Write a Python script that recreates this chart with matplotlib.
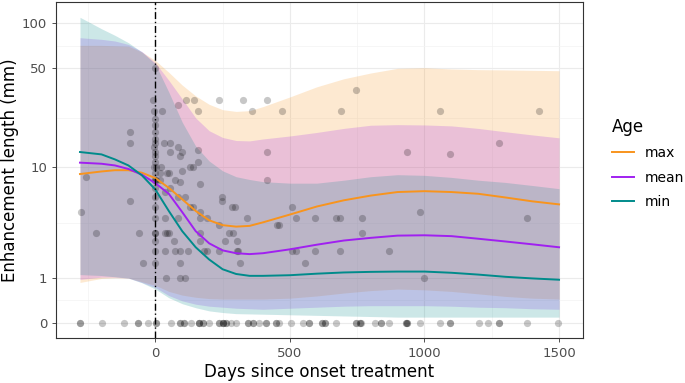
import numpy as np
import matplotlib
matplotlib.use("Agg")
import matplotlib.pyplot as plt
from matplotlib.lines import Line2D

# fitted curves + ribbons (mm, days)
days = [-280, -200, -150, -100, -50, 0, 50, 100, 150, 200, 250, 300, 350, 400,
        500, 600, 700, 800, 900, 1000, 1100, 1200, 1300, 1400, 1500]

max_fit = [8.9, 9.3, 9.5, 9.5, 9.1, 8.3, 7.0, 5.7, 4.6, 3.85, 3.5, 3.4, 3.45, 3.7,
           4.3, 5.0, 5.6, 6.1, 6.5, 6.6, 6.5, 6.3, 5.9, 5.5, 5.2]
mean_fit = [10.8, 10.6, 10.3, 9.7, 8.8, 7.6, 6.3, 4.5, 3.1, 2.4, 2.05, 1.92, 1.88, 1.92,
            2.1, 2.33, 2.55, 2.7, 2.83, 2.85, 2.8, 2.65, 2.5, 2.35, 2.2]
min_fit = [12.9, 12.4, 11.4, 10.3, 8.7, 6.8, 4.6, 3.1, 2.2, 1.65, 1.28, 1.12, 1.06, 1.06,
           1.08, 1.13, 1.17, 1.19, 1.2, 1.2, 1.16, 1.1, 1.03, 0.98, 0.94]

max_hi = [71, 71, 70.5, 70, 64, 56, 46.5, 38, 32, 28, 25.7, 25, 25.3, 27,
          31.5, 37, 42, 46, 49.5, 50, 49, 48.5, 48.3, 48, 47.7]
mean_hi = [80, 78, 76, 72, 64.5, 54, 41, 30.5, 22.5, 18.3, 16.4, 15.6, 15.5, 16,
           16.8, 17.8, 19, 20, 20.2, 20.1, 19.8, 19, 18, 17.1, 16.3]
min_hi = [110, 92, 83, 74, 64, 53, 34, 21, 14.2, 11.1, 9.4, 8.5, 8.1, 7.8,
          7.6, 7.6, 8.0, 8.5, 8.8, 8.7, 8.4, 8.0, 7.7, 7.3, 6.9]

max_lo = [0.86, 0.98, 1.0, 0.99, 0.88, 0.78, 0.62, 0.53, 0.48, 0.45, 0.44, 0.44, 0.44, 0.44,
          0.46, 0.51, 0.58, 0.64, 0.68, 0.66, 0.62, 0.56, 0.5, 0.46, 0.44]
mean_lo = [0.95, 1.02, 1.02, 0.99, 0.86, 0.72, 0.52, 0.4, 0.33, 0.29, 0.27, 0.25, 0.24, 0.23,
           0.25, 0.27, 0.29, 0.3, 0.3, 0.3, 0.29, 0.27, 0.26, 0.24, 0.23]
min_lo = [1.1, 1.07, 1.03, 0.99, 0.85, 0.68, 0.47, 0.34, 0.26, 0.2, 0.17, 0.15, 0.145, 0.14,
          0.13, 0.12, 0.11, 0.1, 0.09, 0.09, 0.09, 0.09, 0.09, 0.09, 0.09]

# observations (days, length in mm)
obs_days = [-256, -278, -222, -93, -93, -93, -62, -46,
            0, -10, -4, 0, -3, 0, -2, 0, -5, 0, -3, 0, -6, 2, 0, 0, -2, 2, 0, 0, 0, 0, 0, -2, 0, 0, 0,
            25, 22, 49, 18, 18, 43, 33, 56, 83, 53, 37, 56, 37, 37, 43, 49, 68, 37, 74, 40,
            86, 115, 142, 99, 93, 99, 74, 93, 86, 111, 130, 140, 86, 93, 123, 93, 93, 111, 127, 140,
            160, 160, 160, 167, 165, 165, 165, 165, 191, 179, 191,
            235, 247, 247, 284, 296, 235, 272, 290, 260, 302, 235, 302, 308, 315, 340,
            327, 360, 414, 416, 416, 469, 453, 459, 506, 521, 506, 521, 593, 673, 685, 593, 685, 556, 691,
            747, 1056, 1426, 934, 1096, 1278, 769, 769, 984, 1380, 867, 1000]
obs_len = [8.5, 4.5, 3, 18, 15, 5.5, 3, 1.5,
           50, 30, 25, 22, 20, 18, 16, 15, 14, 13, 12, 11, 10, 10, 9, 8, 8, 8, 7, 6, 5, 4, 3, 3, 2.5, 2, 1.5,
           25, 10, 9, 8, 9, 9, 15, 15, 14, 13, 6.5, 7, 4, 3, 3, 3, 2.5, 2, 2, 1,
           27.5, 30, 30, 13, 12, 9.4, 8, 7.8, 6, 6, 5, 5, 4, 2, 2, 1.5, 1, 1, 10, 10,
           25, 13.4, 11, 7.5, 4.5, 4, 3, 2.5, 4, 2, 2,
           30, 6, 5.5, 5, 5, 3.5, 3, 3, 2.5, 2.5, 2, 2, 2, 1.5, 4,
           30, 25, 30, 13, 8, 25, 3.5, 3.5, 5, 4, 2, 2, 4, 4, 4, 2, 2, 1.5, 25,
           35, 25, 25, 13, 12.5, 15, 4, 3, 4.5, 4, 2, 1]

zero_days = [-280, -280, -197, -116, -64, -64, -27, 4, 4, 59, 90, 90, 108, 108, 133,
             164, 164, 164, 177, 177, 201, 238, 238, 251, 251, 251, 263, 263, 281, 300,
             343, 343, 362, 362, 386, 411, 411, 448, 448, 460, 504, 547, 572, 572, 621, 621,
             630, 630, 673, 747, 747, 759, 759, 765, 815, 837, 837, 868, 930, 930, 934, 934,
             984, 1058, 1096, 1096, 1204, 1235, 1278, 1278, 1380, 1497]

groups = ["max", "mean", "min"]
colors = {"max": "#F8941D", "mean": "#A020F0", "min": "#008B8B"}

fig = plt.figure(figsize=(6.85, 3.83), dpi=100)
ax = fig.add_axes([0.0818, 0.1175, 0.7693, 0.8773])

ax.set_yscale("function", functions=(lambda v: np.log10(v + 1), lambda t: 10 ** t - 1))

fits = {"max": max_fit, "mean": mean_fit, "min": min_fit}
his = {"max": max_hi, "mean": mean_hi, "min": min_hi}
los = {"max": max_lo, "mean": mean_lo, "min": min_lo}

for g in groups:
    ax.fill_between(days, los[g], his[g], color=colors[g], alpha=0.2, lw=0, zorder=2)

ax.scatter(obs_days, obs_len, s=27, color="black", alpha=0.22, lw=0, zorder=3)
ax.scatter(zero_days, np.zeros(len(zero_days)), s=27, color="black", alpha=0.22, lw=0, zorder=3)

for g in groups:
    ax.plot(days, fits[g], color=colors[g], lw=1.4, zorder=4)

ax.axvline(0, color="black", lw=1, linestyle=(0, (5, 2, 1, 2)), zorder=5)

ax.set_xlim(-369, 1589)
ax.set_ylim(-0.21, 139.5)
ax.set_xticks([0, 500, 1000, 1500])
ax.set_xticks([-250, 250, 750, 1250], minor=True)
ax.set_yticks([0, 1, 10, 50, 100])
ax.set_yticklabels(["0", "1", "10", "50", "100"])
ax.set_yticks([10 ** t - 1 for t in [0.1505, 0.671, 1.374, 1.856]], minor=True)
ax.yaxis.set_minor_formatter(plt.NullFormatter())

ax.grid(which="major", color="#EBEBEB", lw=0.8, zorder=0)
ax.grid(which="minor", color="#F3F3F3", lw=0.5, zorder=0)
ax.set_axisbelow(True)
ax.tick_params(which="major", direction="out", length=3, width=0.6, color="#333333",
               labelcolor="#4D4D4D", labelsize=9.5)
ax.tick_params(which="minor", length=0)
for sp in ax.spines.values():
    sp.set_color("#333333")
    sp.set_linewidth(0.8)

ax.set_xlabel("Days since onset treatment", fontsize=12, labelpad=2)
ax.set_ylabel("Enhancement length (mm)", fontsize=12)
ax.yaxis.set_label_coords(-0.071, 0.5)

handles = [Line2D([], [], color=colors[g], lw=1.4) for g in groups]
leg = fig.legend(handles, groups, title="Age", loc="upper left", bbox_to_anchor=(0.875, 0.725),
                 frameon=False, fontsize=10, title_fontsize=12, handlelength=1.6,
                 handletextpad=0.8, labelspacing=0.75)
leg._legend_box.align = "left"

fig.savefig("out.png", dpi=100)
